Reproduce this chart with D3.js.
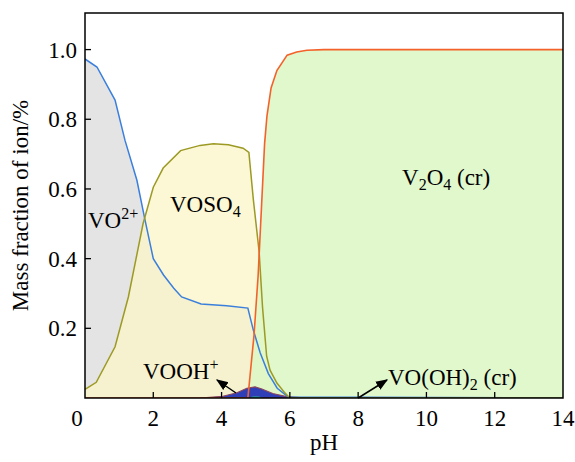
<!DOCTYPE html>
<html lang="en">
<head>
<meta charset="UTF-8">
<title>VO species distribution</title>
<style>
    body { margin: 0; background: #fff; }
    svg { display: block; font-family: "Liberation Serif", "Times New Roman", serif; }
</style>
</head>
<body>
<script src="https://d3js.org/d3.v7.min.js"></script>
<script>
    const width = 575
    const height = 462
    const margin = { top: 13, right: 12, bottom: 64, left: 85 }

    // data
    const vo2pH  = [0, 0.35, 0.88, 1.17, 1.52, 1.76, 2.0, 2.3, 2.6, 2.83, 3.4, 4.15, 4.77, 4.93, 5.13, 5.37, 5.63, 5.95, 14]
    const vo2Val = [0.973, 0.95, 0.855, 0.74, 0.625, 0.51, 0.40, 0.353, 0.315, 0.29, 0.27, 0.265, 0.258, 0.195, 0.13, 0.07, 0.028, 0.003, 0]

    const vososPH  = [0, 0.33, 0.88, 1.27, 1.7, 2.0, 2.29, 2.8, 3.37, 3.76, 4.2, 4.63, 4.8, 4.93, 5.1, 5.2, 5.32, 5.42, 5.62, 5.86, 6.0, 14]
    const vososVal = [0.025, 0.045, 0.147, 0.29, 0.5, 0.605, 0.66, 0.71, 0.725, 0.73, 0.727, 0.717, 0.705, 0.57, 0.42, 0.26, 0.12, 0.08, 0.043, 0.014, 0, 0]

    const v2o4PH  = [0, 4.77, 4.95, 5.07, 5.17, 5.26, 5.33, 5.45, 5.62, 5.92, 6.2, 6.5, 7, 14]
    const v2o4Val = [0, 0, 0.18, 0.35, 0.55, 0.73, 0.81, 0.89, 0.94, 0.984, 0.993, 0.998, 1, 1]

    const voohPH  = [3.37, 4.04, 4.45, 4.74, 4.98, 5.18, 5.5, 5.9, 6.5]
    const voohVal = [0, 0.005, 0.015, 0.028, 0.032, 0.026, 0.013, 0.004, 0]

    const vooh2PH  = [4.8, 4.9, 5.0, 5.1, 5.2]
    const vooh2Val = [0, 0.004, 0.005, 0.004, 0]

    const xTicks = [0, 2, 4, 6, 8, 10, 12, 14]
    const yTicks = [0.2, 0.4, 0.6, 0.8, 1.0]

    const zip = (xs, ys) => xs.map((x, i) => [x, ys[i]])

    const svg = d3.select('body').append('svg')
        .attr('width', width)
        .attr('height', height)

    const x = d3.scaleLinear().domain([0, 14]).range([margin.left, width - margin.right])
    const y = d3.scaleLinear().domain([0, 1.105]).range([height - margin.bottom, margin.top])

    const area = d3.area().x(d => x(d[0])).y0(y(0)).y1(d => y(d[1]))
    const line = d3.line().x(d => x(d[0])).y(d => y(d[1]))

    const defs = svg.append('defs')
    defs.append('clipPath').attr('id', 'plot')
        .append('rect')
        .attr('x', margin.left).attr('y', margin.top)
        .attr('width', width - margin.left - margin.right)
        .attr('height', height - margin.top - margin.bottom)
    defs.append('marker')
        .attr('id', 'arrow')
        .attr('viewBox', '0 0 10 10')
        .attr('refX', 9).attr('refY', 5)
        .attr('markerWidth', 8).attr('markerHeight', 8)
        .attr('orient', 'auto')
        .append('path')
        .attr('d', 'M0,1 L10,5 L0,9 Z')
        .attr('fill', '#000')

    const plot = svg.append('g').attr('clip-path', 'url(#plot)')

    // filled regions
    plot.append('path').datum(zip(vo2pH, vo2Val))
        .attr('d', area).attr('fill', '#e4e4e4')
    plot.append('path').datum(zip(vososPH, vososVal))
        .attr('d', area).attr('fill', '#fbf5c8').attr('fill-opacity', 0.78)
    plot.append('path').datum(zip(v2o4PH, v2o4Val))
        .attr('d', area).attr('fill', '#def6c6').attr('fill-opacity', 0.9)
    plot.append('path').datum(zip(voohPH, voohVal))
        .attr('d', area).attr('fill', '#2f3fb8')
        .attr('stroke', '#8a4660').attr('stroke-width', 1.2)
    plot.append('path').datum(zip(vooh2PH, vooh2Val))
        .attr('d', area).attr('fill', '#2a9a9a')

    // curves
    plot.append('path').datum(zip(vo2pH, vo2Val))
        .attr('d', line).attr('fill', 'none').attr('stroke', '#3b7fdc').attr('stroke-width', 1.5)
    plot.append('path').datum(zip(vososPH, vososVal))
        .attr('d', line).attr('fill', 'none').attr('stroke', '#9c9a25').attr('stroke-width', 1.5)
    plot.append('path').datum(zip(v2o4PH, v2o4Val))
        .attr('d', line).attr('fill', 'none').attr('stroke', '#f4622a').attr('stroke-width', 1.6)

    // frame and ticks
    svg.append('rect')
        .attr('x', margin.left).attr('y', margin.top)
        .attr('width', width - margin.left - margin.right)
        .attr('height', height - margin.top - margin.bottom)
        .attr('fill', 'none').attr('stroke', '#000').attr('stroke-width', 1.5)

    svg.append('g').selectAll('line')
        .data(xTicks.slice(1, -1))
        .join('line')
        .attr('x1', d => x(d)).attr('x2', d => x(d))
        .attr('y1', y(0)).attr('y2', y(0) - 6)
        .attr('stroke', '#000').attr('stroke-width', 1.3)

    svg.append('g').selectAll('line')
        .data(yTicks)
        .join('line')
        .attr('x1', x(0)).attr('x2', x(0) + 6)
        .attr('y1', d => y(d)).attr('y2', d => y(d))
        .attr('stroke', '#000').attr('stroke-width', 1.3)

    svg.append('g').selectAll('text')
        .data(xTicks)
        .join('text')
        .attr('x', d => d === 0 ? x(d) - 8 : x(d))
        .attr('y', y(0) + 28)
        .attr('text-anchor', 'middle')
        .attr('font-size', 23)
        .text(d => d)

    svg.append('g').selectAll('text')
        .data(yTicks)
        .join('text')
        .attr('x', x(0) - 8)
        .attr('y', d => y(d) + 8)
        .attr('text-anchor', 'end')
        .attr('font-size', 23)
        .text(d => d.toFixed(1))

    svg.append('text')
        .attr('x', (margin.left + width - margin.right) / 2)
        .attr('y', height - 12)
        .attr('text-anchor', 'middle')
        .attr('font-size', 23)
        .text('pH')

    svg.append('text')
        .attr('transform', `translate(28, ${(margin.top + height - margin.bottom) / 2}) rotate(-90)`)
        .attr('text-anchor', 'middle')
        .attr('font-size', 23)
        .text('Mass fraction of ion/%')

    // species labels (sub/superscripts via tspans)
    function label(px, py, parts) {
        const t = svg.append('text')
            .attr('x', px).attr('y', py)
            .attr('font-size', 23)
        let shift = 0
        parts.forEach(([s, kind]) => {
            const ts = t.append('tspan').text(s)
            let dy = 0
            if (kind === 'sub') { ts.attr('font-size', 16); dy = 5 }
            else if (kind === 'sup') { ts.attr('font-size', 16); dy = -9 }
            ts.attr('dy', dy - shift)
            shift = dy
        })
    }

    label(88, 228, [['VO'], ['2+', 'sup']])
    label(170, 212, [['VOSO'], ['4', 'sub']])
    label(402, 185, [['V'], ['2', 'sub'], ['O'], ['4', 'sub'], ['\u00a0(cr)']])
    label(143, 379, [['VOOH'], ['+', 'sup']])
    label(388, 385, [['VO(OH)'], ['2', 'sub'], ['\u00a0(cr)']])

    // arrows
    svg.append('line')
        .attr('x1', 236).attr('y1', 393).attr('x2', 217).attr('y2', 380)
        .attr('stroke', '#000').attr('stroke-width', 1.5)
        .attr('marker-end', 'url(#arrow)')
    svg.append('line')
        .attr('x1', x(8)).attr('y1', y(0)).attr('x2', 387).attr('y2', 380)
        .attr('stroke', '#000').attr('stroke-width', 1.5)
        .attr('marker-end', 'url(#arrow)')
</script>
</body>
</html>
